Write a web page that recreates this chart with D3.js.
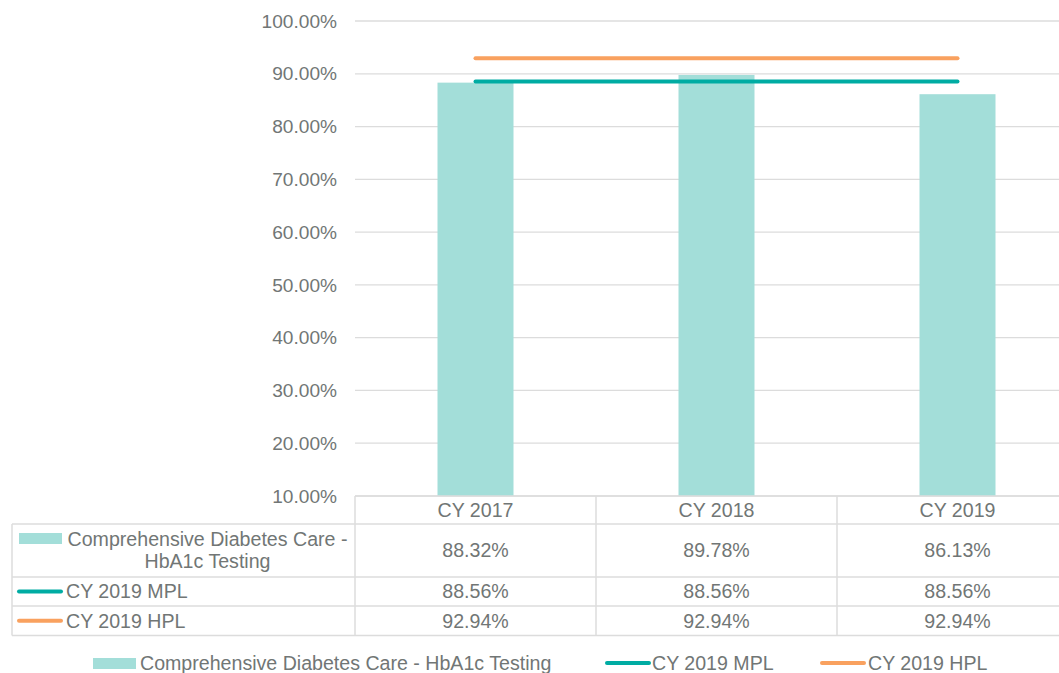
<!DOCTYPE html>
<html><head><meta charset="utf-8">
<script src="https://cdn.jsdelivr.net/npm/d3@7"></script>
<style>body{margin:0;background:#fff}svg{display:block}text{font-family:"Liberation Sans",Arial,sans-serif;fill:#717675}</style>
</head><body>
<svg id="c" width="1059" height="673"></svg>
<script>
const categories = ["CY 2017", "CY 2018", "CY 2019"];
const barValues = [88.32, 89.78, 86.13];
const mplValues = [88.56, 88.56, 88.56];
const hplValues = [92.94, 92.94, 92.94];
const yTicks = [10, 20, 30, 40, 50, 60, 70, 80, 90, 100];
const seriesNames = ["Comprehensive Diabetes Care - HbA1c Testing", "CY 2019 MPL", "CY 2019 HPL"];
const colors = {bar: "#a3ded9", mpl: "#00aca3", hpl: "#f9a15f", grid: "#dcdcdc", text: "#717675"};

(function () {
const svg = d3.select("#c");
const fs = 19.6, fsAxis = 19.1;
const pLeft = 355, pRight = 1078, pTop = 21, pBottom = 496;
const x = d3.scaleBand().domain(categories).range([pLeft, pRight]);
const y = d3.scaleLinear().domain([10, 100]).range([pBottom, pTop]);

svg.append("g").selectAll("line").data(yTicks).join("line")
  .attr("x1", pLeft).attr("x2", pRight)
  .attr("y1", d => y(d)).attr("y2", d => y(d))
  .attr("stroke", colors.grid).attr("stroke-width", 1.3);

const yAxis = d3.axisLeft(y).tickValues(yTicks).tickSize(0).tickPadding(0)
  .tickFormat(d => d3.format(".2f")(d) + "%");
const ga = svg.append("g").attr("transform", `translate(${pLeft - 18},0)`).call(yAxis);
ga.select(".domain").remove();
ga.selectAll("text").attr("font-size", fsAxis).attr("fill", colors.text)
  .style("font-family", '"Liberation Sans", Arial, sans-serif');

const barW = 76;
svg.append("g").selectAll("rect").data(barValues).join("rect")
  .attr("x", (d, i) => x(categories[i]) + x.bandwidth() / 2 - barW / 2)
  .attr("width", barW)
  .attr("y", d => y(d)).attr("height", d => y(10) - y(d))
  .attr("fill", colors.bar);

const line = d3.line().x((d, i) => x(categories[i]) + x.bandwidth() / 2).y(d => y(d));
svg.append("path").datum(hplValues).attr("d", line).attr("fill", "none")
  .attr("stroke", colors.hpl).attr("stroke-width", 4).attr("stroke-linecap", "round");
svg.append("path").datum(mplValues).attr("d", line).attr("fill", "none")
  .attr("stroke", colors.mpl).attr("stroke-width", 4).attr("stroke-linecap", "round");

const tLeft = 12;
const rows = [
  {name: seriesNames[0], vals: barValues, type: "bar", y0: 524, y1: 577},
  {name: seriesNames[1], vals: mplValues, type: "mpl", y0: 577, y1: 606},
  {name: seriesNames[2], vals: hplValues, type: "hpl", y0: 606, y1: 635.5}
];
const tg = svg.append("g");
const bc = colors.grid;
tg.append("line").attr("x1", pLeft).attr("x2", pRight).attr("y1", pBottom).attr("y2", pBottom).attr("stroke", bc).attr("stroke-width", 1.5);
[524, 577, 606, 635.5].forEach(v => tg.append("line").attr("x1", tLeft).attr("x2", pRight).attr("y1", v).attr("y2", v).attr("stroke", bc).attr("stroke-width", 1.5));
tg.append("line").attr("x1", tLeft).attr("x2", tLeft).attr("y1", 524).attr("y2", 635.5).attr("stroke", bc).attr("stroke-width", 1.5);
categories.forEach(c => tg.append("line").attr("x1", x(c)).attr("x2", x(c)).attr("y1", pBottom).attr("y2", 635.5).attr("stroke", bc).attr("stroke-width", 1.5));

tg.selectAll("text.h").data(categories).join("text").attr("class", "h")
  .attr("x", d => x(d) + x.bandwidth() / 2).attr("y", 510).attr("dy", "0.35em")
  .attr("text-anchor", "middle").attr("font-size", fs).text(d => d);

rows.forEach(r => {
  const cy = (r.y0 + r.y1) / 2;
  r.vals.forEach((v, i) => {
    tg.append("text").attr("x", x(categories[i]) + x.bandwidth() / 2).attr("y", cy).attr("dy", "0.35em")
      .attr("text-anchor", "middle").attr("font-size", fs).text(d3.format(".2f")(v) + "%");
  });
  if (r.type === "bar") {
    tg.append("rect").attr("x", 19).attr("y", 533).attr("width", 43).attr("height", 11).attr("fill", colors.bar);
    tg.append("text").attr("x", 207.5).attr("y", 539).attr("dy", "0.35em").attr("text-anchor", "middle").attr("font-size", fs).text("Comprehensive Diabetes Care -");
    tg.append("text").attr("x", 207.5).attr("y", 561).attr("dy", "0.35em").attr("text-anchor", "middle").attr("font-size", fs).text("HbA1c Testing");
  } else {
    tg.append("line").attr("x1", 19).attr("x2", 61).attr("y1", cy).attr("y2", cy)
      .attr("stroke", colors[r.type]).attr("stroke-width", 4).attr("stroke-linecap", "round");
    tg.append("text").attr("x", 66).attr("y", cy).attr("dy", "0.35em").attr("font-size", fs).text(r.name);
  }
});

const lg = svg.append("g");
const ly = 663;
lg.append("rect").attr("x", 93).attr("y", ly - 5).attr("width", 43).attr("height", 11).attr("fill", colors.bar);
lg.append("text").attr("x", 140).attr("y", ly).attr("dy", "0.35em").attr("font-size", fs).text(seriesNames[0]);
lg.append("line").attr("x1", 607).attr("x2", 649).attr("y1", ly).attr("y2", ly).attr("stroke", colors.mpl).attr("stroke-width", 4).attr("stroke-linecap", "round");
lg.append("text").attr("x", 652).attr("y", ly).attr("dy", "0.35em").attr("font-size", fs).text(seriesNames[1]);
lg.append("line").attr("x1", 822).attr("x2", 864).attr("y1", ly).attr("y2", ly).attr("stroke", colors.hpl).attr("stroke-width", 4).attr("stroke-linecap", "round");
lg.append("text").attr("x", 868).attr("y", ly).attr("dy", "0.35em").attr("font-size", fs).text(seriesNames[2]);
})();
</script>
</body></html>
